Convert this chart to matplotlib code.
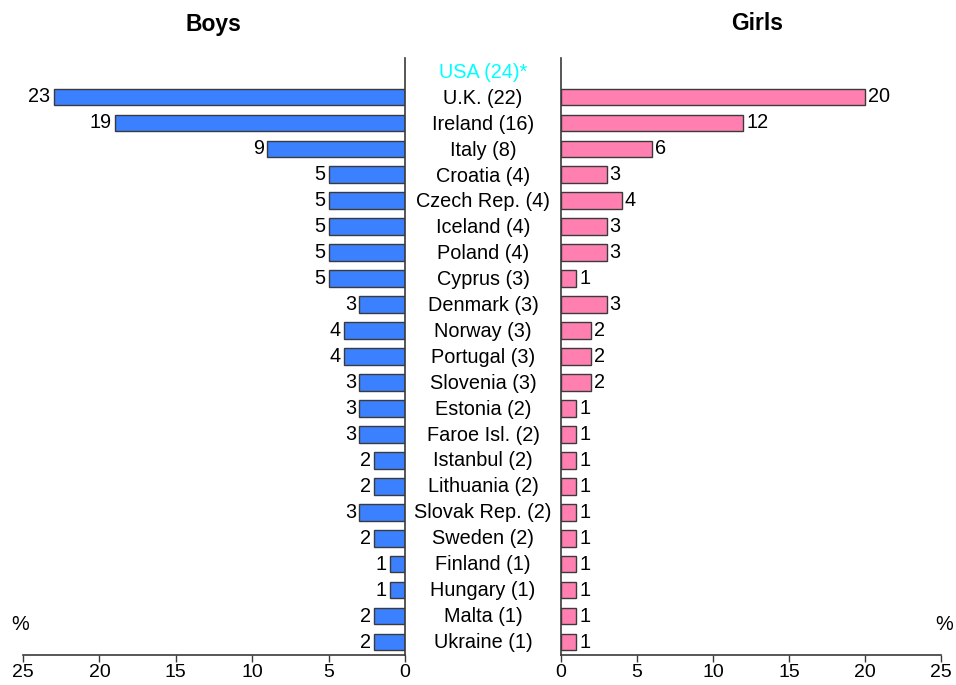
import matplotlib
matplotlib.use("Agg")
import matplotlib.pyplot as plt

plt.rcParams['font.family'] = ['Liberation Sans', 'DejaVu Sans']

countries = ["USA (24)*", "U.K. (22)", "Ireland (16)", "Italy (8)", "Croatia (4)",
             "Czech Rep. (4)", "Iceland (4)", "Poland (4)", "Cyprus (3)", "Denmark (3)",
             "Norway (3)", "Portugal (3)", "Slovenia (3)", "Estonia (2)", "Faroe Isl. (2)",
             "Istanbul (2)", "Lithuania (2)", "Slovak Rep. (2)", "Sweden (2)", "Finland (1)",
             "Hungary (1)", "Malta (1)", "Ukraine (1)"]
boys = [None, 23, 19, 9, 5, 5, 5, 5, 5, 3, 4, 4, 3, 3, 3, 2, 2, 3, 2, 1, 1, 2, 2]
girls = [None, 20, 12, 6, 3, 4, 3, 3, 1, 3, 2, 2, 2, 1, 1, 1, 1, 1, 1, 1, 1, 1, 1]
x_ticks = [0, 5, 10, 15, 20, 25]

W, H = 956, 685
fig = plt.figure(figsize=(W / 100, H / 100), dpi=100)

top, bottom = 58, 655
ax_l = fig.add_axes([23 / W, 1 - bottom / H, 382 / W, (bottom - top) / H])
ax_r = fig.add_axes([561 / W, 1 - bottom / H, 380 / W, (bottom - top) / H])

blue = '#3a80ff'
pink = '#ff80b0'
edge = '#3a3a3a'
fs = 14.3

for ax, vals, col, side in [(ax_l, boys, blue, 'left'), (ax_r, girls, pink, 'right')]:
    for i, v in enumerate(vals):
        if v is None:
            continue
        ax.barh(i, v, height=0.64, color=col, edgecolor=edge, linewidth=1.0)
        ax.text(v + 0.2, i, str(v), ha='right' if side == 'left' else 'left',
                va='center', fontsize=fs)
    ax.set_xlim(0, 25)
    ax.set_ylim(len(countries) - 0.5, -0.5)
    ax.set_yticks([])
    ax.set_xticks(x_ticks)
    ax.tick_params(axis='x', direction='out', length=5, width=1, color=edge,
                   labelsize=14, pad=1.5)
    ax.spines['top'].set_visible(False)
    for s in ax.spines.values():
        s.set_color(edge)
        s.set_linewidth(1.2)

ax_l.invert_xaxis()
ax_l.spines['left'].set_visible(False)
ax_l.spines['right'].set_visible(True)
ax_r.spines['right'].set_visible(False)

for i, name in enumerate(countries):
    color = '#00ffff' if i == 0 else 'black'
    fig.text(483 / W, 1 - (72.5 + i * 25.9) / H, name, ha='center', va='center',
             fontsize=fs, color=color)

fig.text(213 / W, 1 - 24 / H, "Boys", ha='center', va='center', fontsize=16.5,
         fontweight='bold')
fig.text(757 / W, 1 - 24 / H, "Girls", ha='center', va='center', fontsize=16.5,
         fontweight='bold')
fig.text(20 / W, 1 - 624 / H, "%", ha='center', va='center', fontsize=fs)
fig.text(944 / W, 1 - 624 / H, "%", ha='center', va='center', fontsize=fs)

fig.savefig("out.png", dpi=100)
